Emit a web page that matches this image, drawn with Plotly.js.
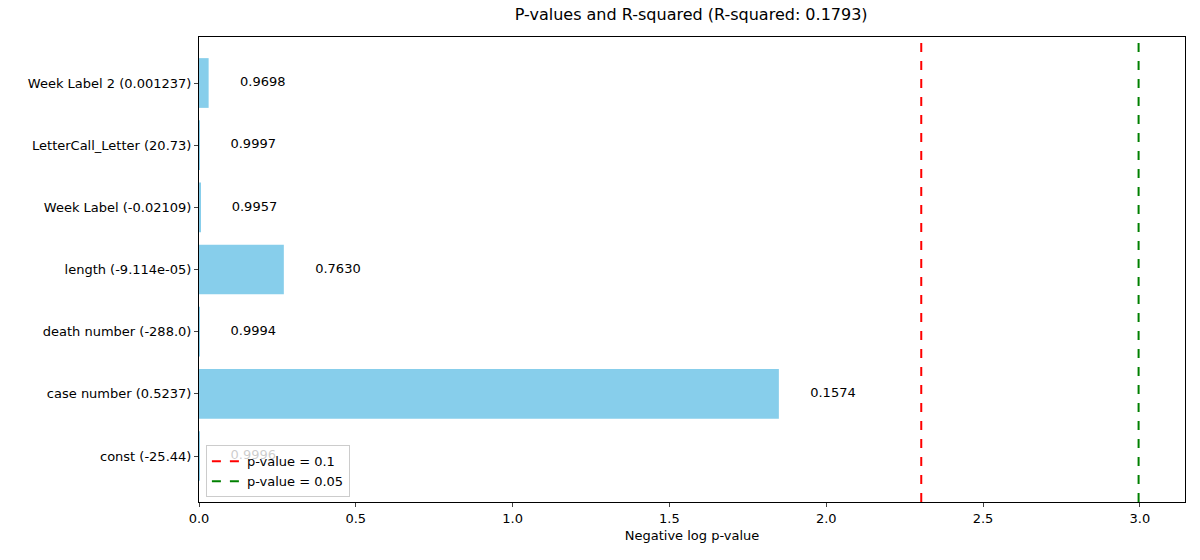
<!DOCTYPE html>
<html>
<head>
<script src="https://cdn.plot.ly/plotly-3.0.1.min.js"></script>
<style>body{margin:0}</style>
</head>
<body>
<div id="plotDiv" style="width:1200px;height:560px"></div>
<script>
var labels = ['const (-25.44)', 'case number (0.5237)', 'death number (-288.0)', 'length (-9.114e-05)',
  'Week Label (-0.02109)', 'LetterCall_Letter (20.73)', 'Week Label 2 (0.001237)'];
var pvalues = ['0.9996', '0.1574', '0.9994', '0.7630', '0.9957', '0.9997', '0.9698'];
var neglog = [0.0004, 1.849, 0.0006, 0.2705, 0.0043, 0.0003, 0.0307];
var cut10 = 2.303;
var cut05 = 2.996;

function makePlot(){
  var bars = {
    type: 'bar', orientation: 'h', x: neglog, y: labels,
    marker: {color: '#87ceeb', line: {width: 0}}, width: 0.8, showlegend: false, hoverinfo: 'none'
  };
  var txt = {
    type: 'scatter', mode: 'text', y: labels,
    x: neglog.map(function(v){ return v + 0.1; }),
    text: pvalues, textposition: 'middle right',
    textfont: {size: 13, color: 'black'}, showlegend: false, hoverinfo: 'none'
  };
  var l1 = {type: 'scatter', mode: 'lines', x: [cut10, cut10], y: [0, 1], yaxis: 'y2',
    line: {color: 'red', dash: 'dash', width: 2}, name: 'p-value = 0.1'};
  var l2 = {type: 'scatter', mode: 'lines', x: [cut05, cut05], y: [0, 1], yaxis: 'y2',
    line: {color: 'green', dash: 'dash', width: 2}, name: 'p-value = 0.05'};

  var layout = {
    width: 1200, height: 560,
    font: {family: 'DejaVu Sans', size: 13, color: 'black'},
    margin: {l: 199, r: 15, t: 37, b: 58},
    plot_bgcolor: 'white', paper_bgcolor: 'white',
    title: {text: 'P-values and R-squared (R-squared: 0.1793)', font: {size: 16}, x: 0.576, y: 0.985, yanchor: 'top'},
    xaxis: {range: [0, 3.144], showgrid: false, zeroline: false, showline: true, mirror: true,
      linecolor: 'black', ticks: 'outside', ticklen: 4, dtick: 0.5, tickformat: '.1f',
      tickfont: {size: 13}, title: {text: 'Negative log p-value', standoff: 6, font: {size: 13}}},
    yaxis: {type: 'category', categoryorder: 'array', categoryarray: labels, range: [-0.74, 6.74],
      showgrid: false, zeroline: false, showline: true, mirror: true, linecolor: 'black',
      ticks: 'outside', ticklen: 4, tickfont: {size: 13}},
    yaxis2: {overlaying: 'y', range: [0, 1], visible: false, fixedrange: true},
    legend: {x: 0.007, y: 0.01, xanchor: 'left', yanchor: 'bottom', bgcolor: 'rgba(255,255,255,0.8)',
      bordercolor: '#ccc', borderwidth: 1, font: {size: 13}}
  };
  Plotly.newPlot('plotDiv', [bars, txt, l1, l2], layout, {displayModeBar: false});
}
makePlot();
</script>
</body>
</html>
